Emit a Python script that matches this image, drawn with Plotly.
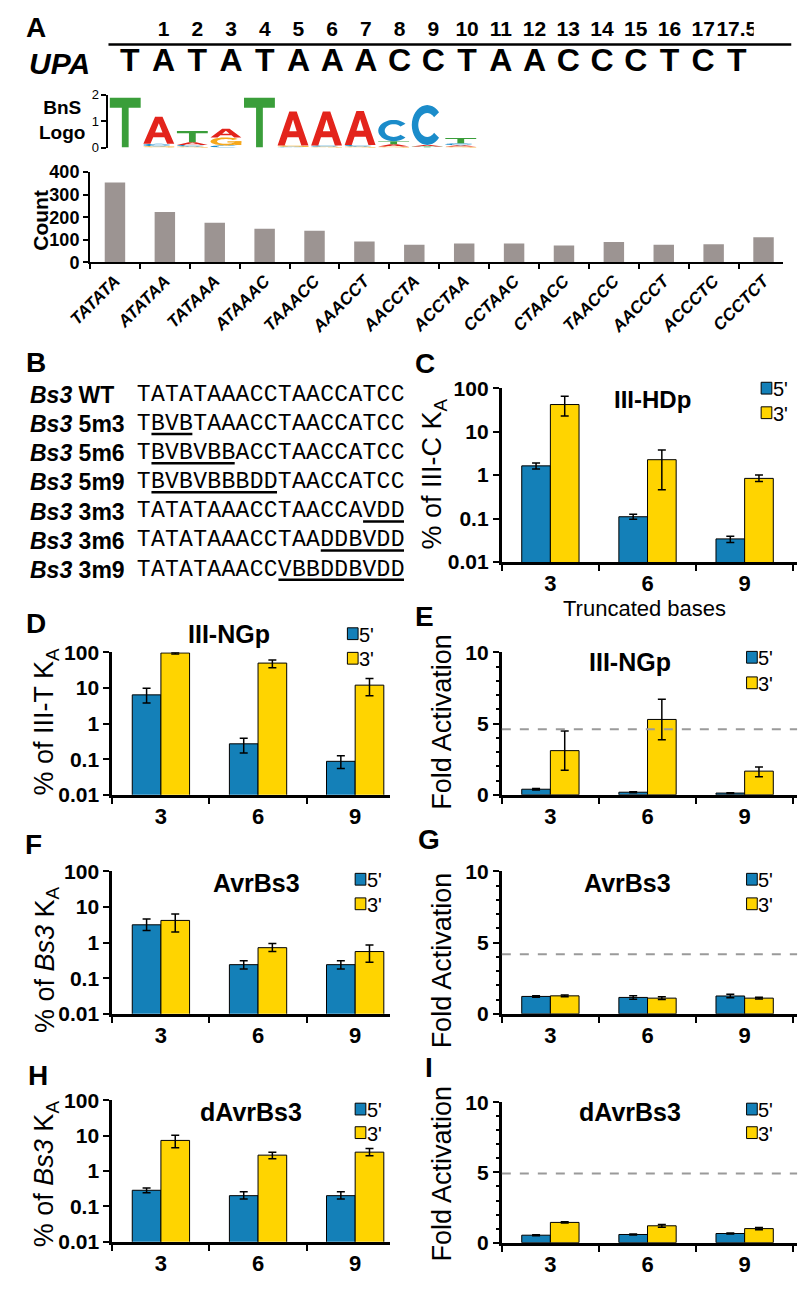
import math
import plotly.graph_objects as go

W, H = 800, 1289

# ---------------- data ----------------
upa_numbers = ["1", "2", "3", "4", "5", "6", "7", "8", "9", "10", "11", "12",
               "13", "14", "15", "16", "17", "17.5"]
upa_letters = list("TATATAAACCTAACCCTCT")

logo_pos = [1, 2, 3, 4, 5, 6, 7, 8, 9, 10, 11]
logo_stack_letters = [["T"], ["G", "C", "A"], ["G", "C", "A", "T"], ["C", "G", "A"], ["T"],
                      ["C", "G", "A"], ["G", "C", "A"], ["G", "C", "A"], ["G", "A", "T", "C"],
                      ["T", "A", "C"], ["G", "A", "C", "T"]]
logo_stack_bits = [[1.88], [0.05, 0.09, 1.02], [0.04, 0.06, 0.1, 0.42], [0.08, 0.3, 0.33], [1.88],
                   [0.03, 0.05, 1.28], [0.03, 0.05, 1.28], [0.04, 0.06, 1.28], [0.04, 0.08, 0.12, 0.8],
                   [0.04, 0.06, 1.5], [0.04, 0.05, 0.07, 0.2]]

count_motifs = ["TATATA", "ATATAA", "TATAAA", "ATAAAC", "TAAACC", "AAACCT", "AACCTA",
                "ACCTAA", "CCTAAC", "CTAACC", "TAACCC", "AACCCT", "ACCCTC", "CCCTCT"]
count_values = [354, 223, 176, 149, 140, 93, 78, 84, 84, 75, 90, 78, 81, 112]

b_labels = ["WT", "5m3", "5m6", "5m9", "3m3", "3m6", "3m9"]
b_sequences = ["TATATAAACCTAACCATCC", "TBVBTAAACCTAACCATCC", "TBVBVBBACCTAACCATCC",
               "TBVBVBBBDDTAACCATCC", "TATATAAACCTAACCAVDD", "TATATAAACCTAADDBVDD",
               "TATATAAACCVBBDDBVDD"]
b_mut_start = [None, 1, 1, 1, 16, 13, 10]
b_mut_end = [None, 3, 6, 9, 18, 18, 18]

truncated = ["3", "6", "9"]

c_5p = [1.63, 0.11, 0.034]
c_5p_hi = [0.27, 0.015, 0.005]
c_5p_lo = [0.25, 0.014, 0.006]
c_3p = [42, 2.26, 0.84]
c_3p_hi = [23, 1.54, 0.16]
c_3p_lo = [19, 1.8, 0.13]

d_5p = [6.4, 0.27, 0.087]
d_5p_hi = [3.4, 0.12, 0.038]
d_5p_lo = [2.6, 0.12, 0.032]
d_3p = [96, 50, 12]
d_3p_hi = [4, 11, 6.4]
d_3p_lo = [6, 13, 6]

e_5p = [0.39, 0.18, 0.12]
e_5p_err = [0.05, 0.03, 0.03]
e_3p = [3.1, 5.29, 1.66]
e_3p_hi = [1.38, 1.41, 0.29]
e_3p_lo = [1.38, 1.43, 0.4]
e_threshold = 4.6

f_5p = [3.16, 0.24, 0.24]
f_5p_hi = [1.44, 0.07, 0.07]
f_5p_lo = [0.96, 0.06, 0.06]
f_3p = [4.2, 0.72, 0.56]
f_3p_hi = [2.2, 0.23, 0.29]
f_3p_lo = [2.2, 0.16, 0.28]

g_5p = [1.22, 1.15, 1.25]
g_5p_err = [0.05, 0.12, 0.12]
g_3p = [1.26, 1.1, 1.1]
g_3p_err = [0.06, 0.1, 0.06]
g_threshold = 4.18

h_5p = [0.284, 0.2, 0.2]
h_5p_hi = [0.046, 0.06, 0.06]
h_5p_lo = [0.044, 0.04, 0.04]
h_3p = [7.3, 2.8, 3.4]
h_3p_hi = [2.9, 0.6, 0.9]
h_3p_lo = [2.8, 0.6, 0.7]

i_5p = [0.53, 0.58, 0.65]
i_5p_err = [0.04, 0.03, 0.03]
i_3p = [1.44, 1.2, 1.0]
i_3p_err = [0.05, 0.1, 0.08]
i_threshold = 4.93

# ---------------- styles ----------------
SANS = "Arial, Liberation Sans, sans-serif"
NARROW = "Liberation Sans Narrow, Arial Narrow, Arial, Liberation Sans, sans-serif"
MONO = "Courier New, Liberation Mono, monospace"
BLUE = "#1480b8"
YELLOW = "#ffd400"
GRAY_BAR = "#9c9492"
LOGO_COL = {"T": "#3a9e3a", "A": "#e3241c", "C": "#1b8cca", "G": "#f6a81c"}


def dx(a, b):
    return [a / W, b / W]


def dy(top, bottom):
    return [1 - bottom / H, 1 - top / H]


fig = go.Figure()
shapes = []
annotations = []

# ---------------- Panel A header (repeat numbers sit over letters 1..18) ----------------
fig.add_trace(go.Scatter(x=list(range(1, len(upa_numbers) + 1)), y=[0] * len(upa_numbers), text=upa_numbers,
                         mode="text", textfont=dict(family=NARROW, size=21, color="black", weight="bold"),
                         xaxis="x", yaxis="y", hoverinfo="skip", showlegend=False))
fig.add_trace(go.Scatter(x=list(range(len(upa_letters))), y=[1] * len(upa_letters), text=upa_letters,
                         mode="text", textfont=dict(family=NARROW, size=32, color="black", weight="bold"),
                         xaxis="x", yaxis="y", hoverinfo="skip", showlegend=False))
shapes.append(dict(type="line", xref="paper", yref="paper", x0=88 / W, x1=791 / W,
                   y0=1 - 33 / H, y1=1 - 33 / H, line=dict(color="black", width=2.5)))
annotations.append(dict(text="<b><i>UPA</i></b>", x=4 / W, y=1 - 52 / H, xref="paper", yref="paper",
                        xanchor="left", yanchor="middle", showarrow=False,
                        font=dict(family=SANS, size=30, color="black")))

# ---------------- Logo ----------------
fig.add_trace(go.Scatter(x=logo_pos, y=[0] * len(logo_pos), mode="markers", marker=dict(opacity=0),
                         xaxis="x2", yaxis="y2", hoverinfo="skip", showlegend=False))


def _arc(a0, a1, n, rx, ry):
    return [(0.5 + rx * math.cos(math.radians(a0 + (a1 - a0) * k / n)),
             0.5 + ry * math.sin(math.radians(a0 + (a1 - a0) * k / n))) for k in range(n + 1)]


GLYPHS = {
    "T": [[[(0, 1), (1, 1), (1, 0.8), (0.61, 0.8), (0.61, 0), (0.39, 0), (0.39, 0.8), (0, 0.8)]]],
    "A": [[[(0, 0), (0.38, 1), (0.62, 1), (1, 0), (0.77, 0), (0.68, 0.24), (0.32, 0.24), (0.23, 0)],
           [(0.38, 0.42), (0.62, 0.42), (0.5, 0.76)]]],
    "C": [[_arc(40, 320, 28, 0.5, 0.5) + _arc(320, 40, 28, 0.29, 0.3)]],
    "G": [[_arc(40, 350, 28, 0.5, 0.5) + _arc(350, 40, 28, 0.29, 0.3)],
          [[(0.55, 0.36), (1, 0.36), (1, 0.52), (0.55, 0.52)]],
          [[(0.8, 0.04), (1, 0.04), (1, 0.52), (0.8, 0.52)]]],
}


def glyph_shapes(letter, x0, x1, y0, y1):
    out = []
    for group in GLYPHS[letter]:
        path = ""
        for sub in group:
            path += "M " + " L ".join(f"{x0 + (x1 - x0) * u:.4f},{y0 + (y1 - y0) * v:.4f}" for u, v in sub) + " Z "
        out.append(dict(type="path", path=path.strip(), xref="x2", yref="y2",
                        fillcolor=LOGO_COL[letter], line=dict(width=0), fillrule="evenodd",
                        layer="above"))
    return out


for p, lets, bits in zip(logo_pos, logo_stack_letters, logo_stack_bits):
    base = 0.0
    for L, b in zip(lets, bits):
        shapes.extend(glyph_shapes(L, p - 0.46, p + 0.46, base, base + b))
        base += b

annotations.append(dict(text="<b>BnS<br>Logo</b>", x=40 / W, y=1 - 110 / H, xref="paper", yref="paper",
                        xanchor="center", yanchor="middle", showarrow=False,
                        font=dict(family=NARROW, size=19, color="black")))

# ---------------- Count bars ----------------
fig.add_trace(go.Bar(x=count_motifs, y=count_values, width=0.41, marker=dict(color=GRAY_BAR, line=dict(width=0)),
                     xaxis="x3", yaxis="y3", hoverinfo="skip", showlegend=False))
annotations.append(dict(text="<b>Count</b>", x=18 / W, y=1 - 212 / H, xref="paper", yref="paper",
                        xanchor="center", yanchor="middle",
                        textangle=-90, showarrow=False, font=dict(family=NARROW, size=21, color="black")))

# ---------------- Panel B ----------------
bx, by, bt = [], [], []
for r, seq in enumerate(b_sequences):
    for k, ch in enumerate(seq):
        bx.append(k)
        by.append(r)
        bt.append(ch)
fig.add_trace(go.Scatter(x=bx, y=by, text=bt, mode="text",
                         textfont=dict(family=MONO, size=23, color="black"),
                         xaxis="x12", yaxis="y12", hoverinfo="skip", showlegend=False))
for r, lab in enumerate(b_labels):
    annotations.append(dict(text=f"<b><i>Bs3</i> {lab}</b>", x=5 / W, y=r, xref="paper", yref="y12",
                            xanchor="left", yanchor="middle", showarrow=False,
                            font=dict(family=NARROW, size=23, color="black")))
    if b_mut_start[r] is not None:
        shapes.append(dict(type="line", xref="x12", yref="y12", x0=b_mut_start[r] - 0.45,
                           x1=b_mut_end[r] + 0.45, y0=r + 0.34, y1=r + 0.34,
                           line=dict(color="black", width=2.5)))


# ---------------- bar panels ----------------
def add_panel(n, v5, hi5, lo5, v3, hi3, lo3):
    xa, ya = f"x{n}", f"y{n}"
    for vals, hi, lo, col in ((v5, hi5, lo5, BLUE), (v3, hi3, lo3, YELLOW)):
        fig.add_trace(go.Bar(x=truncated, y=vals, xaxis=xa, yaxis=ya,
                             marker=dict(color=col, line=dict(color="black", width=1)),
                             error_y=dict(type="data", symmetric=False, array=hi, arrayminus=lo,
                                          color="black", thickness=1.5, width=4),
                             hoverinfo="skip", showlegend=False))


add_panel(4, c_5p, c_5p_hi, c_5p_lo, c_3p, c_3p_hi, c_3p_lo)
add_panel(5, d_5p, d_5p_hi, d_5p_lo, d_3p, d_3p_hi, d_3p_lo)
add_panel(6, e_5p, e_5p_err, e_5p_err, e_3p, e_3p_hi, e_3p_lo)
add_panel(7, f_5p, f_5p_hi, f_5p_lo, f_3p, f_3p_hi, f_3p_lo)
add_panel(8, g_5p, g_5p_err, g_5p_err, g_3p, g_3p_err, g_3p_err)
add_panel(9, h_5p, h_5p_hi, h_5p_lo, h_3p, h_3p_hi, h_3p_lo)
add_panel(10, i_5p, i_5p_err, i_5p_err, i_3p, i_3p_err, i_3p_err)

for n, thr in ((6, e_threshold), (8, g_threshold), (10, i_threshold)):
    shapes.append(dict(type="line", xref=f"x{n} domain", yref=f"y{n}", x0=0, x1=1, y0=thr, y1=thr,
                       line=dict(color="#9a9a9a", width=2, dash="dash")))

# ---------------- layout axes ----------------
hidden = dict(visible=False, showgrid=False, zeroline=False, fixedrange=True)
layout = dict(
    width=W, height=H, autosize=False, margin=dict(l=0, r=0, t=0, b=0),
    paper_bgcolor="white", plot_bgcolor="rgba(0,0,0,0)", barmode="group", bargap=0.41, bargroupgap=0,
    font=dict(family=SANS, color="black"),
)
# header: letter slots 110 + 34.7*i ; rows: numbers at 19px, letters at 52px
layout["xaxis"] = dict(hidden, domain=dx(110 - 17.35, 735 + 17.35), range=[-0.5, 18.5])
layout["yaxis"] = dict(hidden, domain=dy(0, 68), range=[(68 - 19) / 33, -19 / 33], anchor="x")
# logo
layout["xaxis2"] = dict(hidden, domain=dx(88, 468), range=[0.5, 11.5], anchor="y2")
layout["yaxis2"] = dict(domain=dy(84, 138), range=[0, 2], anchor="x2", tickvals=[0, 1, 2],
                        showline=True, linecolor="black", linewidth=2, ticks="outside", ticklen=5,
                        tickwidth=2, tickcolor="black", showgrid=False, zeroline=False,
                        tickfont=dict(family=NARROW, size=13, color="black"), fixedrange=True)
# count
layout["xaxis3"] = dict(domain=dx(69, 783), range=[-0.5, 13.4], anchor="y3", type="category",
                        showline=True, linecolor="black", linewidth=2, ticks="outside", ticklen=5,
                        tickwidth=1.5, tickcolor="black", tickson="boundaries", tickangle=-45,
                        tickfont=dict(family=NARROW, size=17, color="black", weight="bold", style="italic"),
                        showgrid=False, fixedrange=True)
layout["yaxis3"] = dict(domain=dy(163, 255), range=[0, 400], dtick=100, anchor="x3", showline=True,
                        linecolor="black", linewidth=2, ticks="outside", ticklen=5, tickwidth=2,
                        tickcolor="black", showgrid=False, zeroline=False,
                        tickfont=dict(family=NARROW, size=18, color="black", weight="bold"), fixedrange=True)
# panel B text grid
layout["xaxis12"] = dict(hidden, domain=dx(117, 393), range=[-0.5, 18.5], anchor="y12")
layout["yaxis12"] = dict(hidden, domain=dy(375.2, 582.8), range=[6.5, -0.5], anchor="x12")

LEFT_X = (92, 378, [-0.5, 2.36])
RIGHT_X = (493, 797, [-0.5, 2.54])
panel_geo = {
    4: (RIGHT_X, (383, 560), "log"),
    5: (LEFT_X, (652, 797), "log"),
    6: (RIGHT_X, (652, 797), "lin"),
    7: (LEFT_X, (875, 1020), "log"),
    8: (RIGHT_X, (875, 1020), "lin"),
    9: (LEFT_X, (1108, 1252), "log"),
    10: (RIGHT_X, (1110, 1253), "lin"),
}
for n, ((x0, x1, xr), (yt, yb), kind) in panel_geo.items():
    layout[f"xaxis{n}"] = dict(domain=dx(x0, x1), range=xr, anchor=f"y{n}", type="category",
                               categoryarray=truncated, showline=True, linecolor="black", linewidth=3,
                               ticks="outside", ticklen=6, tickwidth=2, tickcolor="black",
                               tickson="boundaries", showgrid=False, fixedrange=True,
                               tickfont=dict(family=NARROW, size=22, color="black", weight="bold"))
    ycfg = dict(domain=dy(yt, yb), anchor=f"x{n}", showline=True, linecolor="black", linewidth=3,
                ticks="outside", ticklen=6, tickwidth=2, tickcolor="black", showgrid=False,
                zeroline=False, fixedrange=True,
                tickfont=dict(family=NARROW, size=21, color="black", weight="bold"))
    if kind == "log":
        ycfg.update(type="log", range=[-2, 2], tickvals=[0.01, 0.1, 1, 10, 100],
                    ticktext=["0.01", "0.1", "1", "10", "100"])
    else:
        ycfg.update(range=[0, 10], tickvals=[0, 5, 10],
                    minor=dict(dtick=1, ticks="outside", ticklen=3, tickwidth=2, tickcolor="black"))
    layout[f"yaxis{n}"] = ycfg


# ---------------- texts ----------------
def ann(text, x, y, size, family=NARROW, angle=0, xanchor="center", bold=True):
    annotations.append(dict(text=f"<b>{text}</b>" if bold else text, x=x / W, y=1 - y / H,
                            xref="paper", yref="paper", xanchor=xanchor, yanchor="middle",
                            textangle=angle, showarrow=False,
                            font=dict(family=family, size=size, color="black")))


for lab, x, y in (("A", 13, 16), ("B", 13, 357), ("C", 414, 358), ("D", 13, 623), ("E", 413, 615),
                  ("F", 11, 848), ("G", 418, 843), ("H", 15, 1083), ("I", 418, 1075)):
    ann(lab, x, y, 28, family=SANS)

ann("III-HDp", 648, 395, 24)
ann("III-NGp", 212, 633, 25)
ann("III-NGp", 625, 662, 25)
ann("AvrBs3", 240, 887, 25)
ann("AvrBs3", 622, 887, 25)
ann("dAvrBs3", 235, 1120, 25)
ann("dAvrBs3", 625, 1120, 25)

ann("Truncated bases", 640, 607, 22, bold=False)

ytitles = (("% of III-C K<sub>A</sub>", 423, 470), ("% of III-T K<sub>A</sub>", 24, 722),
           ("Fold Activation", 431, 723), ("% of <i>Bs3</i> K<sub>A</sub>", 24, 965),
           ("Fold Activation", 431, 966), ("% of <i>Bs3</i> K<sub>A</sub>", 24, 1183),
           ("Fold Activation", 431, 1183))
for t, x, y in ytitles:
    ann(t, x, y, 27, family=SANS, angle=-90, bold=False)

# legends: (square left x, y of 5', y of 3')
for lx, y5, y3 in ((760, 383, 408), (334, 633, 658), (745, 657, 683), (342, 883, 908),
                   (745, 883, 908), (342, 1117, 1141), (745, 1117, 1141)):
    for yy, col, lab in ((y5, BLUE, "5'"), (y3, YELLOW, "3'")):
        shapes.append(dict(type="rect", xref="paper", yref="paper", x0=lx / W, x1=(lx + 11) / W,
                           y0=1 - (yy + 6) / H, y1=1 - (yy - 6) / H, fillcolor=col,
                           line=dict(color="black", width=1)))
        ann(lab, lx + 10, yy + 1, 20, xanchor="left", bold=False)

layout["shapes"] = shapes
layout["annotations"] = annotations
fig.update_layout(**layout)
fig.write_html("out.html", config={"displayModeBar": False},
               post_script="document.body.style.margin='0px';document.body.style.padding='0px';")
